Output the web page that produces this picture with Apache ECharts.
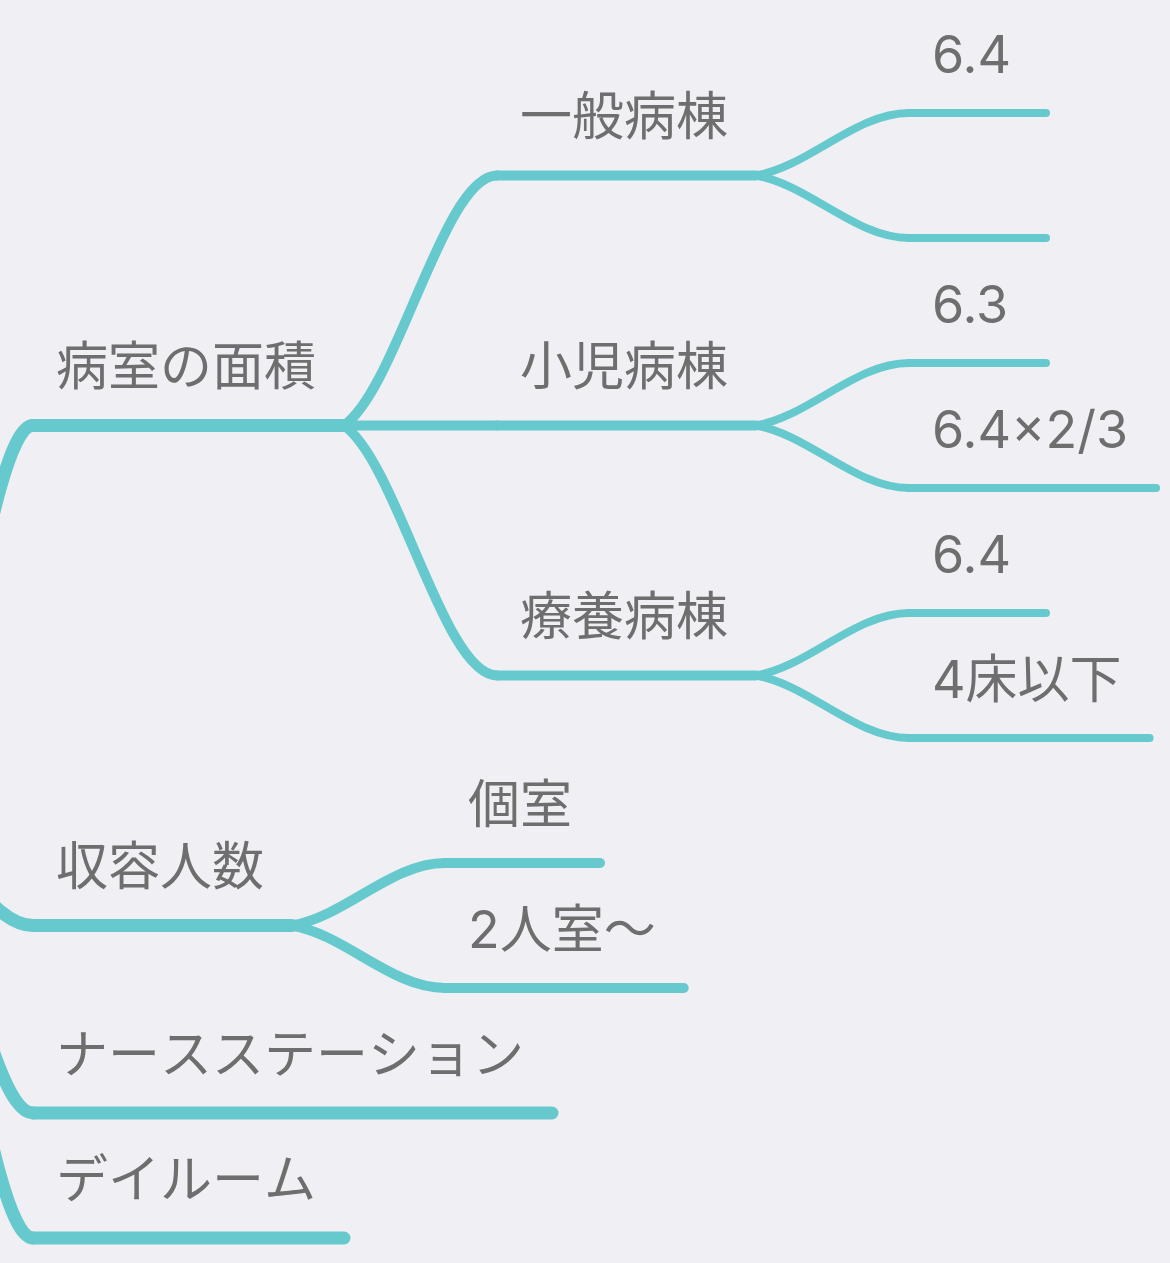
<!DOCTYPE html>
<html><head><meta charset="utf-8">
<script src="https://cdn.jsdelivr.net/npm/echarts@6/dist/echarts.min.js"></script>
<style>html,body{margin:0;padding:0;background:#EFEFF4}#chart{width:1170px;height:1263px}</style>
</head><body><div id="chart"></div>
<script>
// ---- data ----
const rootTopic = '';
const mainTopics = ['病室の面積', '収容人数', 'ナースステーション', 'デイルーム'];
const wardTypes = ['一般病棟', '小児病棟', '療養病棟'];
const capacityTypes = ['個室', '2人室〜'];
const generalWardArea = ['6.4', ''];
const pediatricWardArea = ['6.3', '6.4×2/3'];
const longTermWardArea = ['6.4', '4床以下'];

// ---- style / layout constants ----
const LINE_COLOR = '#66C9CE';
const TEXT_COLOR = '#6E6E6E';
const FONT_SIZE = 52;
const FONT_FAMILY = 'Inter, "Noto Sans CJK JP", "Noto Sans CJK SC", sans-serif';
const ROW = 125, FIRST_ROW = 113;
const PAD = 51, MIN_LEN = 137, GAP = 153, ROOT_GAP = 120, FIRST_START = 33;
const TEXT_DX = 23, TEXT_DY = 56;
const WIDTH_BY_DEPTH = [13, 13, 10, 8];

function node(name, children) { return { name: name, children: children || [] }; }
const wardAreas = [generalWardArea, pediatricWardArea, longTermWardArea];
const tree = node(rootTopic, [
  node(mainTopics[0], wardTypes.map((w, i) => node(w, wardAreas[i].map(v => node(v))))),
  node(mainTopics[1], capacityTypes.map(c => node(c))),
  node(mainTopics[2]),
  node(mainTopics[3])
]);

const ctx = document.createElement('canvas').getContext('2d');
ctx.font = FONT_SIZE + 'px ' + FONT_FAMILY;
function measure(t) { return t ? ctx.measureText(t).width : 0; }

let leafIndex = 0;
const flat = [];
function layout(n, depth, start, parent) {
  n.depth = depth;
  if (depth === 0) {
    n.x1 = FIRST_START - ROOT_GAP;
    n.x0 = n.x1;
  } else {
    n.x0 = start;
    n.x1 = start + Math.max(measure(n.name) + PAD, MIN_LEN);
  }
  n.parent = parent;
  if (n.children.length) {
    const cs = depth === 0 ? FIRST_START : n.x1 + GAP;
    n.children.forEach(c => layout(c, depth + 1, cs, n));
    n.y = (n.children[0].y + n.children[n.children.length - 1].y) / 2;
  } else {
    n.y = FIRST_ROW + ROW * leafIndex++;
  }
  if (depth > 0) flat.push(n);
}
layout(tree, 0, 0, null);

const seriesData = flat.map(n => [n.x0, n.y, n.x1, n.parent.x1, n.parent.y, n.depth]);

function renderItem(params, api) {
  const n = flat[params.dataIndex];
  const p0 = api.coord([api.value(0), api.value(1)]);
  const p1 = api.coord([api.value(2), api.value(1)]);
  const pp = api.coord([api.value(3), api.value(4)]);
  const lw = WIDTH_BY_DEPTH[api.value(5)];
  const dx = p0[0] - pp[0], dy = p0[1] - pp[1];
  return {
    type: 'group',
    children: [
      {
        type: 'bezierCurve',
        shape: {
          x1: pp[0], y1: pp[1], x2: p0[0], y2: p0[1],
          cpx1: pp[0] + 0.35 * dx, cpy1: pp[1] + 0.15 * dy,
          cpx2: p0[0] - 0.35 * dx, cpy2: p0[1]
        },
        style: { stroke: LINE_COLOR, lineWidth: lw, fill: 'none', lineCap: 'round' }
      },
      {
        type: 'line',
        shape: { x1: p0[0], y1: p0[1], x2: p1[0], y2: p1[1] },
        style: { stroke: LINE_COLOR, lineWidth: lw, lineCap: 'round' }
      },
      {
        type: 'text',
        style: {
          text: n.name, x: p0[0] + TEXT_DX, y: p0[1] - TEXT_DY,
          fill: TEXT_COLOR, fontSize: FONT_SIZE, fontFamily: FONT_FAMILY,
          align: 'left', verticalAlign: 'middle'
        }
      }
    ]
  };
}

const chart = echarts.init(document.getElementById('chart'));
chart.setOption({
  animation: false,
  backgroundColor: '#EFEFF4',
  grid: { left: 0, right: 0, top: 0, bottom: 0 },
  xAxis: { type: 'value', min: 0, max: 1170, show: false },
  yAxis: { type: 'value', min: 0, max: 1263, inverse: true, show: false },
  series: [{
    type: 'custom',
    renderItem: renderItem,
    clip: false,
    data: seriesData
  }]
});
</script></body></html>
